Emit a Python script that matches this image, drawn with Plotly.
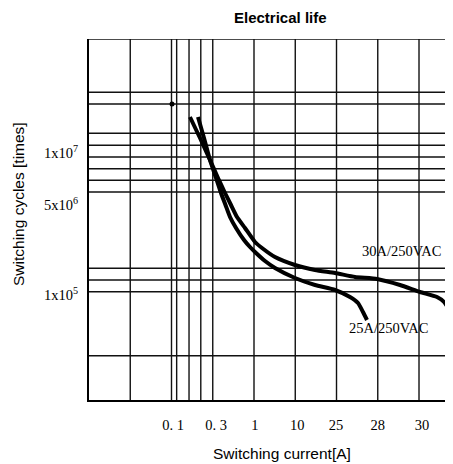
import plotly.graph_objects as go

# ---- data (chart units: x = grid columns, y = grid rows) ----
x_grid = [1, 2, 2.125, 2.425, 2.71, 3, 4, 5, 6, 7, 8]
y_grid = [10, 8.524, 8.199, 7.388, 7.055, 6.731, 6.407, 6.086, 5.762,
          3.648, 3.324, 3.0, 1.227]

x_tick_vals = [2.04, 3.08, 4.02, 5.05, 5.99, 7.0, 8.07]
x_tick_text = ["0. 1", "0. 3", "1", "10", "25", "28", "30"]
y_tick_vals = [6.84, 5.40, 2.91]
y_tick_text = ["1x10<sup>7</sup>", "5x10<sup>6</sup>", "1x10<sup>5</sup>"]

series_names = ["30A/250VAC", "25A/250VAC"]

x_30a = [2.448, 2.691, 2.933, 3.127, 3.297, 3.442, 3.588, 3.782, 4.024, 4.194,
         4.509, 4.994, 5.479, 5.964, 6.448, 6.982, 7.539, 8.024, 8.436, 8.606,
         8.727, 8.824]
y_30a = [7.839, 7.258, 6.648, 6.150, 5.734, 5.402, 5.069, 4.765, 4.377, 4.211,
         3.961, 3.740, 3.601, 3.518, 3.407, 3.352, 3.186, 2.992, 2.853, 2.715,
         2.493, 2.216]

x_25a = [2.642, 2.788, 2.933, 3.079, 3.200, 3.309, 3.418, 3.564, 3.758, 3.903,
         4.024, 4.267, 4.509, 4.994, 5.479, 5.964, 6.327, 6.521, 6.642, 6.739]
y_25a = [7.839, 7.258, 6.648, 6.150, 5.734, 5.402, 5.069, 4.765, 4.432, 4.238,
         4.100, 3.850, 3.657, 3.380, 3.186, 3.047, 2.853, 2.687, 2.438, 2.216]

dot_x = [2.012]
dot_y = [8.199]

X_MAX = 8.824
Y_MAX = 10

fig = go.Figure()

for xs, ys, name in [(x_30a, y_30a, series_names[0]), (x_25a, y_25a, series_names[1])]:
    fig.add_trace(go.Scatter(x=xs, y=ys, mode="lines", name=name,
                             line=dict(color="black", width=4, shape="spline", smoothing=0.5),
                             showlegend=False, hoverinfo="skip"))

fig.add_trace(go.Scatter(x=dot_x, y=dot_y, mode="markers",
                         marker=dict(color="black", size=5), showlegend=False,
                         hoverinfo="skip"))

grid_style = dict(color="#111111", width=1.4)
shapes = []
for gx in x_grid:
    shapes.append(dict(type="line", xref="x", yref="paper", x0=gx, x1=gx, y0=0, y1=1,
                       line=grid_style, layer="below"))
for gy in y_grid:
    shapes.append(dict(type="line", xref="paper", yref="y", x0=0, x1=1, y0=gy, y1=gy,
                       line=grid_style, layer="below"))

serif = "Liberation Serif, Times New Roman, serif"
sans = "Liberation Sans, Arial, sans-serif"

# plot area occupies page pixels x 89..453, y 39..400 (page has an 8px body margin)
PW, PH = 364, 361

annotations = [
    dict(text="<b>Electrical life</b>", xref="paper", yref="paper",
         x=(280 - 89) / PW, y=(400 - 18) / PH, xanchor="center", yanchor="middle",
         showarrow=False, font=dict(family=sans, size=15, color="black")),
    dict(text="Switching current[A]", xref="paper", yref="paper",
         x=(282 - 89) / PW, y=(400 - 454) / PH, xanchor="center", yanchor="middle",
         showarrow=False, font=dict(family=sans, size=15.5, color="black")),
    dict(text="Switching cycles [times]", xref="paper", yref="paper", textangle=-90,
         x=(18 - 89) / PW, y=(400 - 204) / PH, xanchor="center", yanchor="middle",
         showarrow=False, font=dict(family=sans, size=15.5, color="black")),
    dict(text=series_names[0], x=7.588, y=4.127, xref="x", yref="y",
         xanchor="center", yanchor="middle", showarrow=False,
         font=dict(family=serif, size=14.5, color="black")),
    dict(text=series_names[1], x=7.273, y=1.994, xref="x", yref="y",
         xanchor="center", yanchor="middle", showarrow=False,
         font=dict(family=serif, size=14.5, color="black")),
]

fig.update_layout(
    width=445, height=456,
    margin=dict(l=81, r=0, t=31, b=64, pad=0),
    paper_bgcolor="white", plot_bgcolor="white",
    shapes=shapes, annotations=annotations,
    xaxis=dict(range=[0, X_MAX], showgrid=False, zeroline=False,
               showline=True, linecolor="black", linewidth=2,
               tickmode="array", tickvals=x_tick_vals, ticktext=x_tick_text,
               ticks="", ticklabelstandoff=11,
               tickfont=dict(family=serif, size=14.5, color="black"), fixedrange=True),
    yaxis=dict(range=[0, Y_MAX], showgrid=False, zeroline=False,
               showline=True, linecolor="black", linewidth=2,
               tickmode="array", tickvals=y_tick_vals, ticktext=y_tick_text,
               ticks="", ticklabelstandoff=6,
               tickfont=dict(family=serif, size=14.5, color="black"), fixedrange=True),
)

fig.write_html("out.html")
